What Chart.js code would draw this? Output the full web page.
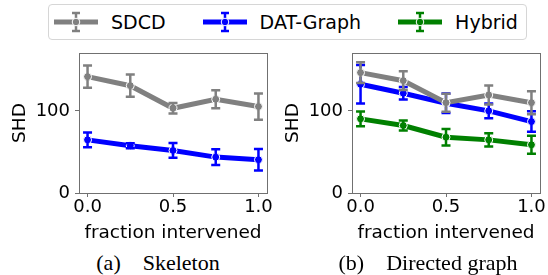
<!DOCTYPE html>
<html>
<head>
<title>SHD vs fraction intervened</title>
<script src="https://cdn.jsdelivr.net/npm/chart.js@4.4.1/dist/chart.umd.min.js"></script>
<style>
  body { margin: 0; width: 548px; height: 275px; overflow: hidden; background: #fff; position: relative; }
  canvas { position: absolute; top: 45px; }
  #legend { position: absolute; left: 48px; top: 4px; width: 472px; height: 34px; border: 1px solid #d6d6d6; border-radius: 4px;
            display: flex; align-items: center; padding-left: 5px; font: 19px "DejaVu Sans"; color: #000; white-space: nowrap; }
  #legend svg { display: block; flex-shrink: 0; }
  #legend .lbl { margin-left: 13px; margin-right: 37px; flex-shrink: 0; }
  .cap { position: absolute; top: 252px; width: 240px; text-align: center; font: 22px "Liberation Serif"; line-height: 22px; }
</style>
</head>
<body>
<div id="legend"></div>
<canvas id="skel" width="300" height="200" style="left:0px"></canvas>
<canvas id="dir" width="300" height="200" style="left:273px"></canvas>
<div class="cap" style="left:38px">(a)&emsp;Skeleton</div>
<div class="cap" style="left:308px">(b)&emsp;Directed graph</div>

<script>
// fraction of intervened variables
const fractions = [0.0, 0.25, 0.5, 0.75, 1.0];

// (a) skeleton SHD
const skelSDCD = [141.7, 130.7, 103.2, 114.2, 105.3];
const skelSDCDErr = [13.5, 13.5, 6.5, 11, 16];
const skelDAT = [64.7, 57.5, 51.8, 43.7, 40.5];
const skelDATErr = [9, 3, 9, 9.5, 13];

// (b) directed graph SHD
const dirSDCD = [146.6, 136.8, 110, 119.4, 110];
const dirSDCDErr = [12.5, 11.5, 11, 11.5, 14];
const dirDAT = [132.4, 121.5, 109.3, 100, 87];
const dirDATErr = [23.5, 7.5, 12, 9, 12.5];
const dirHybrid = [90.3, 82.2, 68, 64.7, 58.7];
const dirHybridErr = [9, 6, 10, 8, 11];

const xTicks = [0, 0.5, 1.0];
const yTicks = [0, 100];

const methods = ['SDCD', 'DAT-Graph', 'Hybrid'];
const colors = { 'SDCD': '#808080', 'DAT-Graph': '#0000ff', 'Hybrid': '#008000' };
const axisGray = '#707070';

Chart.defaults.font.family = 'DejaVu Sans';
Chart.defaults.color = '#000';

// legend (shared by both panels)
const legend = document.getElementById('legend');
methods.forEach(m => {
  const c = colors[m];
  legend.insertAdjacentHTML('beforeend',
    '<svg width="44" height="24"><line x1="0" y1="12" x2="44" y2="12" stroke="' + c + '" stroke-width="5"/>' +
    '<line x1="22" y1="3" x2="22" y2="21" stroke="' + c + '" stroke-width="2.5"/>' +
    '<line x1="18" y1="3" x2="26" y2="3" stroke="' + c + '" stroke-width="2.5"/>' +
    '<line x1="18" y1="21" x2="26" y2="21" stroke="' + c + '" stroke-width="2.5"/>' +
    '<circle cx="22" cy="12" r="3.8" fill="' + c + '" stroke="#fff" stroke-width="1"/></svg>' +
    '<span class="lbl">' + m + '</span>');
});

function series(name, vals, errs) {
  return {
    label: name,
    data: fractions.map((x, i) => ({ x: x, y: vals[i] })),
    err: errs,
    borderColor: colors[name],
    backgroundColor: colors[name],
    borderWidth: 5,
    pointRadius: 4,
    pointBorderColor: '#fff',
    pointBorderWidth: 1,
    pointBackgroundColor: colors[name],
    tension: 0
  };
}

// vertical error bars with caps, drawn right after each line
const errorBars = {
  id: 'errorBars',
  afterDatasetDraw(chart, args) {
    const ds = chart.data.datasets[args.index];
    const xs = chart.scales.x, ys = chart.scales.y;
    const ctx = chart.ctx;
    ctx.save();
    ctx.strokeStyle = ds.borderColor;
    ctx.lineWidth = 2.5;
    ds.data.forEach((p, i) => {
      const px = xs.getPixelForValue(p.x);
      const top = ys.getPixelForValue(p.y + ds.err[i]);
      const bot = ys.getPixelForValue(p.y - ds.err[i]);
      ctx.beginPath();
      ctx.moveTo(px, top); ctx.lineTo(px, bot);
      ctx.moveTo(px - 4.5, top); ctx.lineTo(px + 4.5, top);
      ctx.moveTo(px - 4.5, bot); ctx.lineTo(px + 4.5, bot);
      ctx.stroke();
    });
    ctx.restore();
  }
};

// matplotlib-style box around the axes
const frame = {
  id: 'frame',
  beforeDatasetsDraw(chart) {
    const a = chart.chartArea, ctx = chart.ctx;
    ctx.save();
    ctx.strokeStyle = axisGray;
    ctx.lineWidth = 1;
    ctx.strokeRect(Math.round(a.left) + 0.5, Math.round(a.top) + 0.5,
                   Math.round(a.right - a.left), Math.round(a.bottom - a.top));
    ctx.restore();
  }
};

function noPad(s) {
  s.paddingTop = 0; s.paddingBottom = 0; s.paddingLeft = 0; s.paddingRight = 0;
}

function makeChart(id, datasets) {
  return new Chart(document.getElementById(id), {
    type: 'line',
    data: { datasets: datasets },
    plugins: [errorBars, frame],
    options: {
      responsive: false,
      animation: false,
      layout: { padding: { top: 8, right: 33, bottom: 0, left: 0 } },
      plugins: { legend: { display: false }, tooltip: { enabled: false } },
      scales: {
        x: {
          type: 'linear', min: -0.05, max: 1.05,
          afterBuildTicks: s => { s.ticks = xTicks.map(v => ({ value: v })); },
          afterFit: s => { s.height = 52; noPad(s); },
          ticks: { font: { size: 18 }, padding: 0, maxRotation: 0, callback: v => v.toFixed(1) },
          grid: { drawOnChartArea: false, drawTicks: true, tickLength: 4, color: axisGray },
          border: { display: false },
          title: { display: true, text: 'fraction intervened', font: { size: 18.5 }, padding: { top: 0, bottom: 1 } }
        },
        y: {
          min: 0, max: 170.5,
          afterBuildTicks: s => { s.ticks = yTicks.map(v => ({ value: v })); },
          afterFit: s => { s.width = 79; noPad(s); },
          ticks: { font: { size: 18 }, padding: 5 },
          grid: { drawOnChartArea: false, drawTicks: true, tickLength: 4, color: axisGray },
          border: { display: false },
          title: { display: true, text: 'SHD', font: { size: 18.5 }, padding: { top: 9, bottom: 0 } }
        }
      }
    }
  });
}

makeChart('skel', [
  series('SDCD', skelSDCD, skelSDCDErr),
  series('DAT-Graph', skelDAT, skelDATErr)
]);

makeChart('dir', [
  series('SDCD', dirSDCD, dirSDCDErr),
  series('DAT-Graph', dirDAT, dirDATErr),
  series('Hybrid', dirHybrid, dirHybridErr)
]);
</script>
</body>
</html>
